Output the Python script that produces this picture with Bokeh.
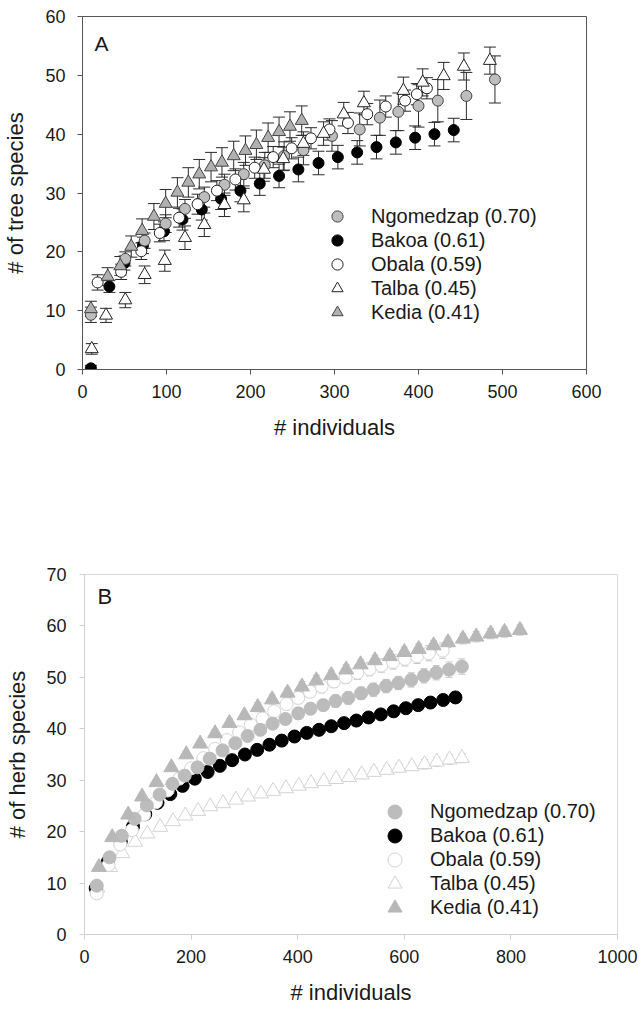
from bokeh.plotting import figure
from bokeh.models import (ColumnDataSource, Whisker, TeeHead, Legend, LegendItem,
                          Label, FixedTicker, Range1d)
from bokeh.embed import file_html
from bokeh.resources import INLINE

FONT = "Liberation Sans"

# ---------------- Panel A: tree species ----------------
a_ngo_x = [10, 51, 74, 99, 122, 145, 169, 192, 217, 240, 263, 297, 330, 354, 376, 400, 423, 457, 491]
a_ngo_y = [9.3, 18.8, 21.9, 24.8, 27.3, 29.3, 31.4, 33.2, 34.7, 36.3, 37.3, 39.7, 40.8, 42.8, 43.8, 44.8, 45.7, 46.5, 49.3]
a_ngo_e = [1.3, 1.2, 1.3, 1.5, 1.6, 1.7, 1.8, 2.0, 2.2, 2.4, 2.5, 2.6, 2.8, 3.0, 3.2, 3.6, 3.6, 4.0, 4.0]

a_bak_x = [10, 32, 50, 72, 97, 119, 142, 165, 188, 211, 234, 257, 281, 304, 327, 350, 373, 396, 419, 442]
a_bak_y = [0.2, 14.1, 18.1, 21.1, 23.5, 25.5, 27.2, 29.0, 30.4, 31.6, 32.9, 34.0, 35.1, 36.1, 36.9, 37.8, 38.6, 39.4, 40.0, 40.7]
a_bak_e = [0.5, 1.0, 1.2, 1.4, 1.6, 1.8, 1.8, 1.8, 1.9, 2.0, 2.0, 2.1, 2.0, 2.0, 2.0, 2.0, 2.0, 2.0, 2.0, 2.0]

a_oba_x = [18, 46, 70, 92, 115, 137, 160, 182, 205, 227, 249, 272, 294, 316, 339, 361, 384, 398, 410]
a_oba_y = [14.8, 16.6, 20.1, 23.2, 25.8, 28.1, 30.4, 32.3, 34.3, 36.1, 37.6, 39.3, 40.8, 41.9, 43.4, 44.7, 45.7, 46.8, 47.8]
a_oba_e = [1.3, 1.3, 1.4, 1.5, 1.6, 1.7, 1.7, 1.8, 1.8, 1.8, 1.8, 1.8, 1.8, 1.8, 1.8, 1.8, 1.8, 1.8, 1.8]

a_tal_x = [11, 28, 51, 74, 98, 122, 145, 169, 192, 216, 239, 263, 287, 311, 335, 382, 405, 430, 454, 485]
a_tal_y = [3.5, 9.2, 11.8, 16.1, 18.5, 22.4, 24.6, 28.0, 28.8, 34.0, 35.8, 38.4, 40.1, 43.4, 45.3, 47.4, 48.8, 49.9, 51.5, 52.5]
a_tal_e = [0.9, 1.2, 1.3, 1.5, 1.8, 2.0, 2.0, 2.0, 2.0, 2.0, 2.0, 2.0, 2.0, 2.0, 2.0, 2.3, 2.3, 2.3, 2.3, 2.3]

a_ked_x = [10, 30, 45, 58, 71, 85, 99, 113, 126, 139, 153, 166, 180, 194, 207, 221, 234, 247, 261]
a_ked_y = [10.3, 15.8, 17.6, 20.9, 23.6, 26.0, 28.2, 30.1, 31.8, 33.2, 34.4, 35.2, 36.3, 37.2, 38.2, 39.4, 40.4, 41.3, 42.3]
a_ked_e = [1.3, 1.5, 1.6, 1.8, 2.0, 2.2, 2.4, 2.5, 2.5, 2.5, 2.5, 2.5, 2.5, 2.5, 2.5, 2.5, 2.5, 2.5, 2.5]

a_xticks = [0, 100, 200, 300, 400, 500, 600]
a_yticks = [0, 10, 20, 30, 40, 50, 60]

# ---------------- Panel B: herb species ----------------
b_ngo_x = [23, 47, 70, 94, 117, 141, 165, 188, 212, 235, 259, 283, 306, 330, 353, 377, 401, 424, 448, 471, 495, 519, 542, 566, 589, 613, 637, 660, 684, 708]
b_ngo_y = [9.5, 15.0, 19.2, 22.5, 25.1, 27.2, 29.3, 30.9, 32.5, 34.2, 35.8, 37.2, 38.6, 39.8, 41.0, 41.9, 43.0, 43.9, 44.6, 45.4, 46.0, 46.9, 47.6, 48.3, 48.9, 49.5, 50.3, 50.9, 51.5, 52.1]
b_ngo_e = [0.3, 0.4, 0.5, 0.5, 0.6, 0.6, 0.7, 0.7, 0.8, 0.8, 0.9, 0.9, 0.9, 1.0, 1.0, 1.0, 1.1, 1.1, 1.1, 1.2, 1.2, 1.2, 1.3, 1.3, 1.3, 1.4, 1.4, 1.4, 1.5, 1.5]

b_bak_x = [21, 44, 68, 91, 114, 137, 161, 184, 207, 231, 254, 277, 301, 324, 347, 370, 394, 417, 440, 463, 487, 510, 533, 556, 580, 603, 626, 649, 673, 696]
b_bak_y = [9.0, 14.2, 18.1, 21.0, 23.4, 25.6, 27.3, 28.9, 30.3, 31.6, 32.8, 33.9, 35.0, 35.9, 36.9, 37.7, 38.5, 39.2, 39.8, 40.5, 41.1, 41.6, 42.2, 42.8, 43.4, 44.0, 44.6, 45.1, 45.6, 46.1]
b_bak_e = [0.3, 0.4, 0.4, 0.5, 0.5, 0.5, 0.6, 0.6, 0.6, 0.7, 0.7, 0.7, 0.7, 0.8, 0.8, 0.8, 0.8, 0.8, 0.9, 0.9, 0.9, 0.9, 0.9, 0.9, 1.0, 1.0, 1.0, 1.0, 1.0, 1.0]

b_oba_x = [23, 45, 67, 89, 112, 134, 156, 178, 200, 223, 245, 267, 290, 312, 334, 356, 379, 401, 423, 445, 468, 490, 512, 535, 557, 579, 601, 624, 646, 672]
b_oba_y = [8.0, 13.5, 17.5, 20.3, 23.3, 25.7, 28.0, 30.3, 32.3, 34.3, 36.1, 37.8, 39.3, 40.8, 42.0, 43.4, 44.8, 46.0, 47.2, 48.2, 49.2, 50.0, 50.9, 51.6, 52.3, 53.0, 53.6, 54.1, 54.7, 55.2]
b_oba_e = [0.3, 0.4, 0.5, 0.5, 0.6, 0.6, 0.7, 0.7, 0.8, 0.8, 0.9, 0.9, 0.9, 1.0, 1.0, 1.0, 1.1, 1.1, 1.1, 1.2, 1.2, 1.2, 1.3, 1.3, 1.3, 1.4, 1.4, 1.4, 1.5, 1.5]

b_tal_x = [24, 48, 71, 95, 118, 142, 166, 189, 213, 236, 260, 284, 307, 331, 354, 378, 402, 425, 449, 472, 496, 520, 543, 567, 590, 614, 638, 661, 685, 708]
b_tal_y = [9.1, 13.1, 15.8, 18.0, 19.6, 20.9, 22.0, 23.1, 24.0, 24.9, 25.5, 26.2, 26.8, 27.4, 27.9, 28.4, 28.9, 29.4, 29.8, 30.2, 30.6, 31.1, 31.6, 32.0, 32.4, 32.7, 33.1, 33.6, 34.0, 34.3]
b_tal_e = [0.3, 0.3, 0.4, 0.4, 0.4, 0.5, 0.5, 0.5, 0.5, 0.6, 0.6, 0.6, 0.6, 0.6, 0.7, 0.7, 0.7, 0.7, 0.7, 0.7, 0.8, 0.8, 0.8, 0.8, 0.8, 0.8, 0.9, 0.9, 0.9, 0.9]

b_ked_x = [27, 52, 82, 108, 135, 163, 191, 217, 245, 272, 300, 325, 352, 381, 408, 435, 463, 491, 518, 545, 573, 600, 627, 655, 682, 710, 735, 762, 788, 817]
b_ked_y = [13.1, 18.9, 23.3, 26.8, 29.6, 32.5, 35.0, 37.1, 39.1, 41.1, 42.6, 44.2, 45.7, 47.0, 48.2, 49.4, 50.4, 51.5, 52.5, 53.3, 54.1, 54.9, 55.5, 56.2, 56.8, 57.5, 57.9, 58.5, 58.8, 59.2]
b_ked_e = [0.3, 0.4, 0.5, 0.5, 0.6, 0.6, 0.7, 0.7, 0.8, 0.8, 0.8, 0.9, 0.9, 0.9, 1.0, 1.0, 1.0, 1.0, 1.0, 1.0, 1.0, 1.0, 1.0, 1.0, 1.0, 1.0, 1.0, 1.0, 1.0, 1.0]

b_xticks = [0, 200, 400, 600, 800, 1000]
b_yticks = [0, 10, 20, 30, 40, 50, 60, 70]

labels = ["Ngomedzap (0.70)", "Bakoa (0.61)", "Obala (0.59)", "Talba (0.45)", "Kedia (0.41)"]


def src(x, y, e):
    return ColumnDataSource(dict(x=x, y=y,
                                 upper=[a + b for a, b in zip(y, e)],
                                 lower=[a - b for a, b in zip(y, e)]))


def style(p, axis_color, outline_color, title_sy, title_sx, tick_sy, tick_sx):
    p.grid.visible = False
    p.outline_line_color = outline_color
    p.outline_line_width = 1
    for ax in p.axis:
        ax.axis_line_color = axis_color
        ax.major_tick_line_color = axis_color
        ax.minor_tick_line_color = None
        ax.major_tick_out = 5
        ax.major_tick_in = 0
        ax.major_label_text_font = FONT
        ax.major_label_text_font_size = "18px"
        ax.major_label_text_color = "#1a1a1a"
        ax.axis_label_text_font = FONT
        ax.axis_label_text_font_size = "22px"
        ax.axis_label_text_font_style = "normal"
        ax.axis_label_text_color = "#1a1a1a"
    p.yaxis.major_label_standoff = tick_sy
    p.xaxis.major_label_standoff = tick_sx
    p.yaxis.axis_label_standoff = title_sy
    p.xaxis.axis_label_standoff = title_sx


def whisk(p, s, color, head):
    w = Whisker(source=s, base="x", upper="upper", lower="lower",
                line_color=color, line_width=1,
                upper_head=TeeHead(size=head, line_color=color, line_width=1),
                lower_head=TeeHead(size=head, line_color=color, line_width=1))
    p.add_layout(w)


def add_legend(p, renderers, x0, bottoms, glyph, standoff):
    # one single-item legend per row so that the row pitch can be tighter than the key
    for lab, r, yb in zip(labels, renderers, bottoms):
        lg = Legend(items=[LegendItem(label=lab, renderers=[r])],
                    location=(x0, yb), glyph_width=glyph, glyph_height=glyph, spacing=0,
                    label_standoff=standoff, padding=0, margin=0, border_line_alpha=0,
                    background_fill_alpha=0, label_text_font=FONT, label_text_font_size="20px",
                    label_text_color="#1a1a1a", label_height=glyph)
        p.add_layout(lg)


# ---- Figure A ----
pA = figure(width=642, height=460, x_range=Range1d(0, 600), y_range=Range1d(0, 60),
            output_backend="svg", toolbar_location=None,
            min_border_left=80, min_border_right=56, min_border_top=16, min_border_bottom=91,
            x_axis_label="# individuals", y_axis_label="# of tree species")
style(pA, "#555555", "#555555", 14, 14, 12, 10)
pA.xaxis.ticker = FixedTicker(ticks=a_xticks)
pA.yaxis.ticker = FixedTicker(ticks=a_yticks)

sa = {k: src(*v) for k, v in dict(
    ngo=(a_ngo_x, a_ngo_y, a_ngo_e), bak=(a_bak_x, a_bak_y, a_bak_e),
    oba=(a_oba_x, a_oba_y, a_oba_e), tal=(a_tal_x, a_tal_y, a_tal_e),
    ked=(a_ked_x, a_ked_y, a_ked_e)).items()}
for k in ["bak", "ngo", "oba", "tal", "ked"]:
    whisk(pA, sa[k], "#2a2a2a", 12)

rA_bak = pA.scatter("x", "y", source=sa["bak"], marker="circle", size=11, fill_color="black", line_color="black")
rA_ngo = pA.scatter("x", "y", source=sa["ngo"], marker="circle", size=11, fill_color="#bdbdbd", line_color="#444444")
rA_oba = pA.scatter("x", "y", source=sa["oba"], marker="circle", size=11, fill_color="white", line_color="#222222")
rA_tal = pA.scatter("x", "y", source=sa["tal"], marker="triangle", size=13, fill_color="white", line_color="#222222")
rA_ked = pA.scatter("x", "y", source=sa["ked"], marker="triangle", size=13, fill_color="#b0b0b0", line_color="#444444")

add_legend(pA, [rA_ngo, rA_bak, rA_oba, rA_tal, rA_ked], 241, [139, 115, 91, 67, 43], 28, 20)
pA.add_layout(Label(x=14.2, y=57.4, text="A", text_font=FONT, text_font_size="21px",
                    text_baseline="top", text_align="left", text_color="#1a1a1a"))

# ---- Figure B ----
pB = figure(width=642, height=549, x_range=Range1d(0, 1000), y_range=Range1d(0, 70),
            output_backend="svg", toolbar_location=None,
            min_border_left=84, min_border_right=25, min_border_top=114, min_border_bottom=75,
            x_axis_label="# individuals", y_axis_label="# of herb species")
style(pB, "#d0d0d0", "#d9d9d9", 13, 14, 13, 10)
pB.xaxis.ticker = FixedTicker(ticks=b_xticks)
pB.yaxis.ticker = FixedTicker(ticks=b_yticks)

sb = {k: src(*v) for k, v in dict(
    ngo=(b_ngo_x, b_ngo_y, b_ngo_e), bak=(b_bak_x, b_bak_y, b_bak_e),
    oba=(b_oba_x, b_oba_y, b_oba_e), tal=(b_tal_x, b_tal_y, b_tal_e),
    ked=(b_ked_x, b_ked_y, b_ked_e)).items()}
for k in ["tal", "bak", "oba", "ngo", "ked"]:
    whisk(pB, sb[k], "#c8c8c8", 7)

rB_tal = pB.scatter("x", "y", source=sb["tal"], marker="triangle", size=15, fill_color="white", line_color="#d4d4d4")
rB_bak = pB.scatter("x", "y", source=sb["bak"], marker="circle", size=13, fill_color="black", line_color="black")
rB_oba = pB.scatter("x", "y", source=sb["oba"], marker="circle", size=13, fill_color="white", line_color="#d4d4d4")
rB_ngo = pB.scatter("x", "y", source=sb["ngo"], marker="circle", size=13, fill_color="#bcbcbc", line_color="#bcbcbc")
rB_ked = pB.scatter("x", "y", source=sb["ked"], marker="triangle", size=15, fill_color="#b8b8b8", line_color="#b8b8b8")

add_legend(pB, [rB_ngo, rB_bak, rB_oba, rB_tal, rB_ked], 293, [105, 81, 57, 33, 9], 35, 18)
pB.add_layout(Label(x=24.4, y=68.2, text="B", text_font=FONT, text_font_size="22px",
                    text_baseline="top", text_align="left", text_color="#1a1a1a"))

open("out.html", "w").write(file_html([pA, pB], INLINE))
